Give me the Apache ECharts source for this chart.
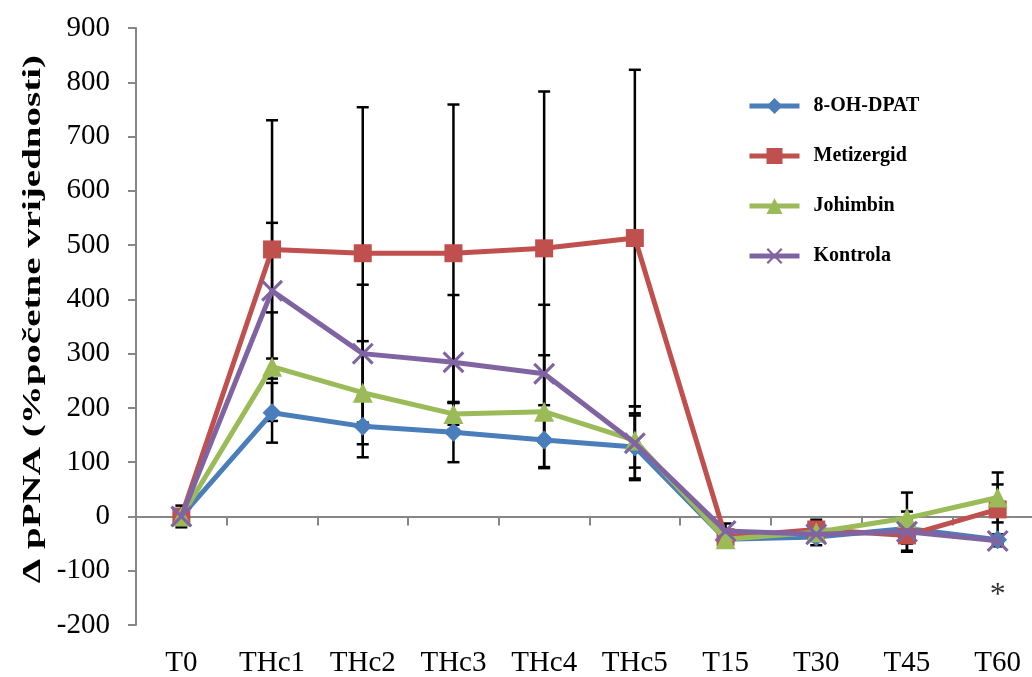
<!DOCTYPE html>
<html>
<head>
<meta charset="utf-8">
<script src="https://cdn.jsdelivr.net/npm/echarts@6/dist/echarts.min.js"></script>
<style>
html,body{margin:0;padding:0;background:#fff;}
#c{width:1032px;height:677px;}
</style>
</head>
<body>
<div id="c"></div>
<script>
var categories = ['T0','THc1','THc2','THc3','THc4','THc5','T15','T30','T45','T60'];
var yTicks = {min: -200, max: 900, interval: 100};
var yTitle = 'Δ pPNA (%početne vrijednosti)';
var seriesNames = ['8-OH-DPAT','Metizergid','Johimbin','Kontrola'];
var dpat    = [0, 191, 166, 155, 141, 128, -42, -38, -22, -43];
var dpatErr = [5, 55, 57, 55, 50, 58, 8, 15, 12, 8];
var met     = [0, 492, 485, 485, 494, 513, -38, -24, -35, 13];
var metErr  = [20, 238, 269, 274, 289, 310, 8, 18, 28, 46];
var joh     = [0, 276, 228, 189, 193, 140, -42, -29, -3, 35];
var johErr  = [5, 100, 95, 20, 104, 50, 8, 10, 47, 46];
var kon     = [0, 416, 300, 284, 263, 135, -27, -33, -28, -45];
var konErr  = [5, 125, 127, 124, 127, 68, 14, 12, 37, 10];
var annotations = [{cat: 'T60', value: -140, text: '*'}];

var colors = ['#4A7EBB', '#C0504D', '#9BBB59', '#8064A2'];
var values = [dpat, met, joh, kon];
var errs = [dpatErr, metErr, johErr, konErr];
var crossPath = 'path://M0,1 L1,0 L5,4 L9,0 L10,1 L6,5 L10,9 L9,10 L5,6 L1,10 L0,9 L4,5 Z';
var symbols = ['diamond', 'rect', 'triangle', crossPath];
var symbolSizes = [19, 18, 20, 22];
var FONT = '"Liberation Serif","Times New Roman",serif';

function errData(v, e) {
  return v.map(function (val, i) { return [i, val - e[i], val + e[i]]; });
}
function renderErr(params, api) {
  var x = api.value(0);
  var lo = api.coord([x, api.value(1)]);
  var hi = api.coord([x, api.value(2)]);
  var hw = 6;
  var st = {stroke: '#000', lineWidth: 2.5};
  return {
    type: 'group',
    children: [
      {type: 'line', shape: {x1: lo[0], y1: lo[1], x2: hi[0], y2: hi[1]}, style: st},
      {type: 'line', shape: {x1: lo[0] - hw, y1: lo[1], x2: lo[0] + hw, y2: lo[1]}, style: st},
      {type: 'line', shape: {x1: hi[0] - hw, y1: hi[1], x2: hi[0] + hw, y2: hi[1]}, style: st}
    ]
  };
}

var series = [];
for (var k = 0; k < 4; k++) {
  series.push({
    type: 'custom',
    name: seriesNames[k] + ' err',
    xAxisIndex: 0,
    renderItem: renderErr,
    encode: {x: 0, y: [1, 2]},
    data: errData(values[k], errs[k]),
    z: 1,
    silent: true
  });
}
for (var k = 0; k < 4; k++) {
  series.push({
    type: 'line',
    name: seriesNames[k],
    xAxisIndex: 0,
    data: values[k],
    symbol: symbols[k],
    symbolSize: symbolSizes[k],
    showAllSymbol: true,
    lineStyle: {width: 5, color: colors[k]},
    itemStyle: {color: colors[k], borderWidth: 0},
    z: 3 + k,
    animation: false
  });
}
series.push({
  type: 'scatter',
  name: 'annot',
  xAxisIndex: 0,
  symbol: 'circle',
  symbolSize: 1,
  itemStyle: {color: 'rgba(0,0,0,0)'},
  data: annotations.map(function (a) { return [a.cat, a.value]; }),
  label: {
    show: true, position: 'inside', offset: [0, 3],
    formatter: function (p) { return annotations[p.dataIndex].text; },
    fontFamily: FONT, fontSize: 32, color: '#000'
  },
  z: 10,
  silent: true
});

var chart = echarts.init(document.getElementById('c'), null, {renderer: 'canvas'});
chart.setOption({
  animation: false,
  backgroundColor: '#fff',
  grid: {left: 136, right: -11, top: 28, bottom: 52, containLabel: false, outerBoundsMode: 'none'},
  legend: {
    data: seriesNames,
    orient: 'vertical',
    left: 742,
    top: 91,
    itemWidth: 50,
    itemHeight: 20,
    itemGap: 30,
    lineStyle: {width: 5},
    textStyle: {fontFamily: FONT, fontWeight: 'bold', fontSize: 20, color: '#000', padding: [0, 0, 0, 9]}
  },
  graphic: [{
    type: 'text',
    left: 20,
    top: 55,
    rotation: Math.PI / 2,
    scaleX: 1.5,
    style: {text: yTitle, font: 'bold 26px ' + FONT, fill: '#000'},
    silent: true
  }],
  xAxis: [
    {
      type: 'category',
      data: categories,
      position: 'bottom',
      axisLine: {show: false, onZero: false},
      axisTick: {show: false},
      splitLine: {show: false},
      axisLabel: {fontFamily: FONT, fontSize: 29, color: '#000', margin: 24}
    },
    {
      type: 'category',
      data: categories,
      position: 'bottom',
      axisLine: {show: true, onZero: true, lineStyle: {color: '#868686', width: 2}},
      axisTick: {show: true, inside: false, length: 9, lineStyle: {color: '#868686', width: 2}},
      axisLabel: {show: false},
      splitLine: {show: false}
    }
  ],
  yAxis: {
    type: 'value',
    min: yTicks.min,
    max: yTicks.max,
    interval: yTicks.interval,
    axisLine: {show: true, lineStyle: {color: '#868686', width: 2}},
    axisTick: {show: true, inside: false, length: 8, lineStyle: {color: '#868686', width: 2}},
    splitLine: {show: false},
    axisLabel: {fontFamily: FONT, fontSize: 29, color: '#000', margin: 26}
  },
  series: series
});
</script>
</body>
</html>
